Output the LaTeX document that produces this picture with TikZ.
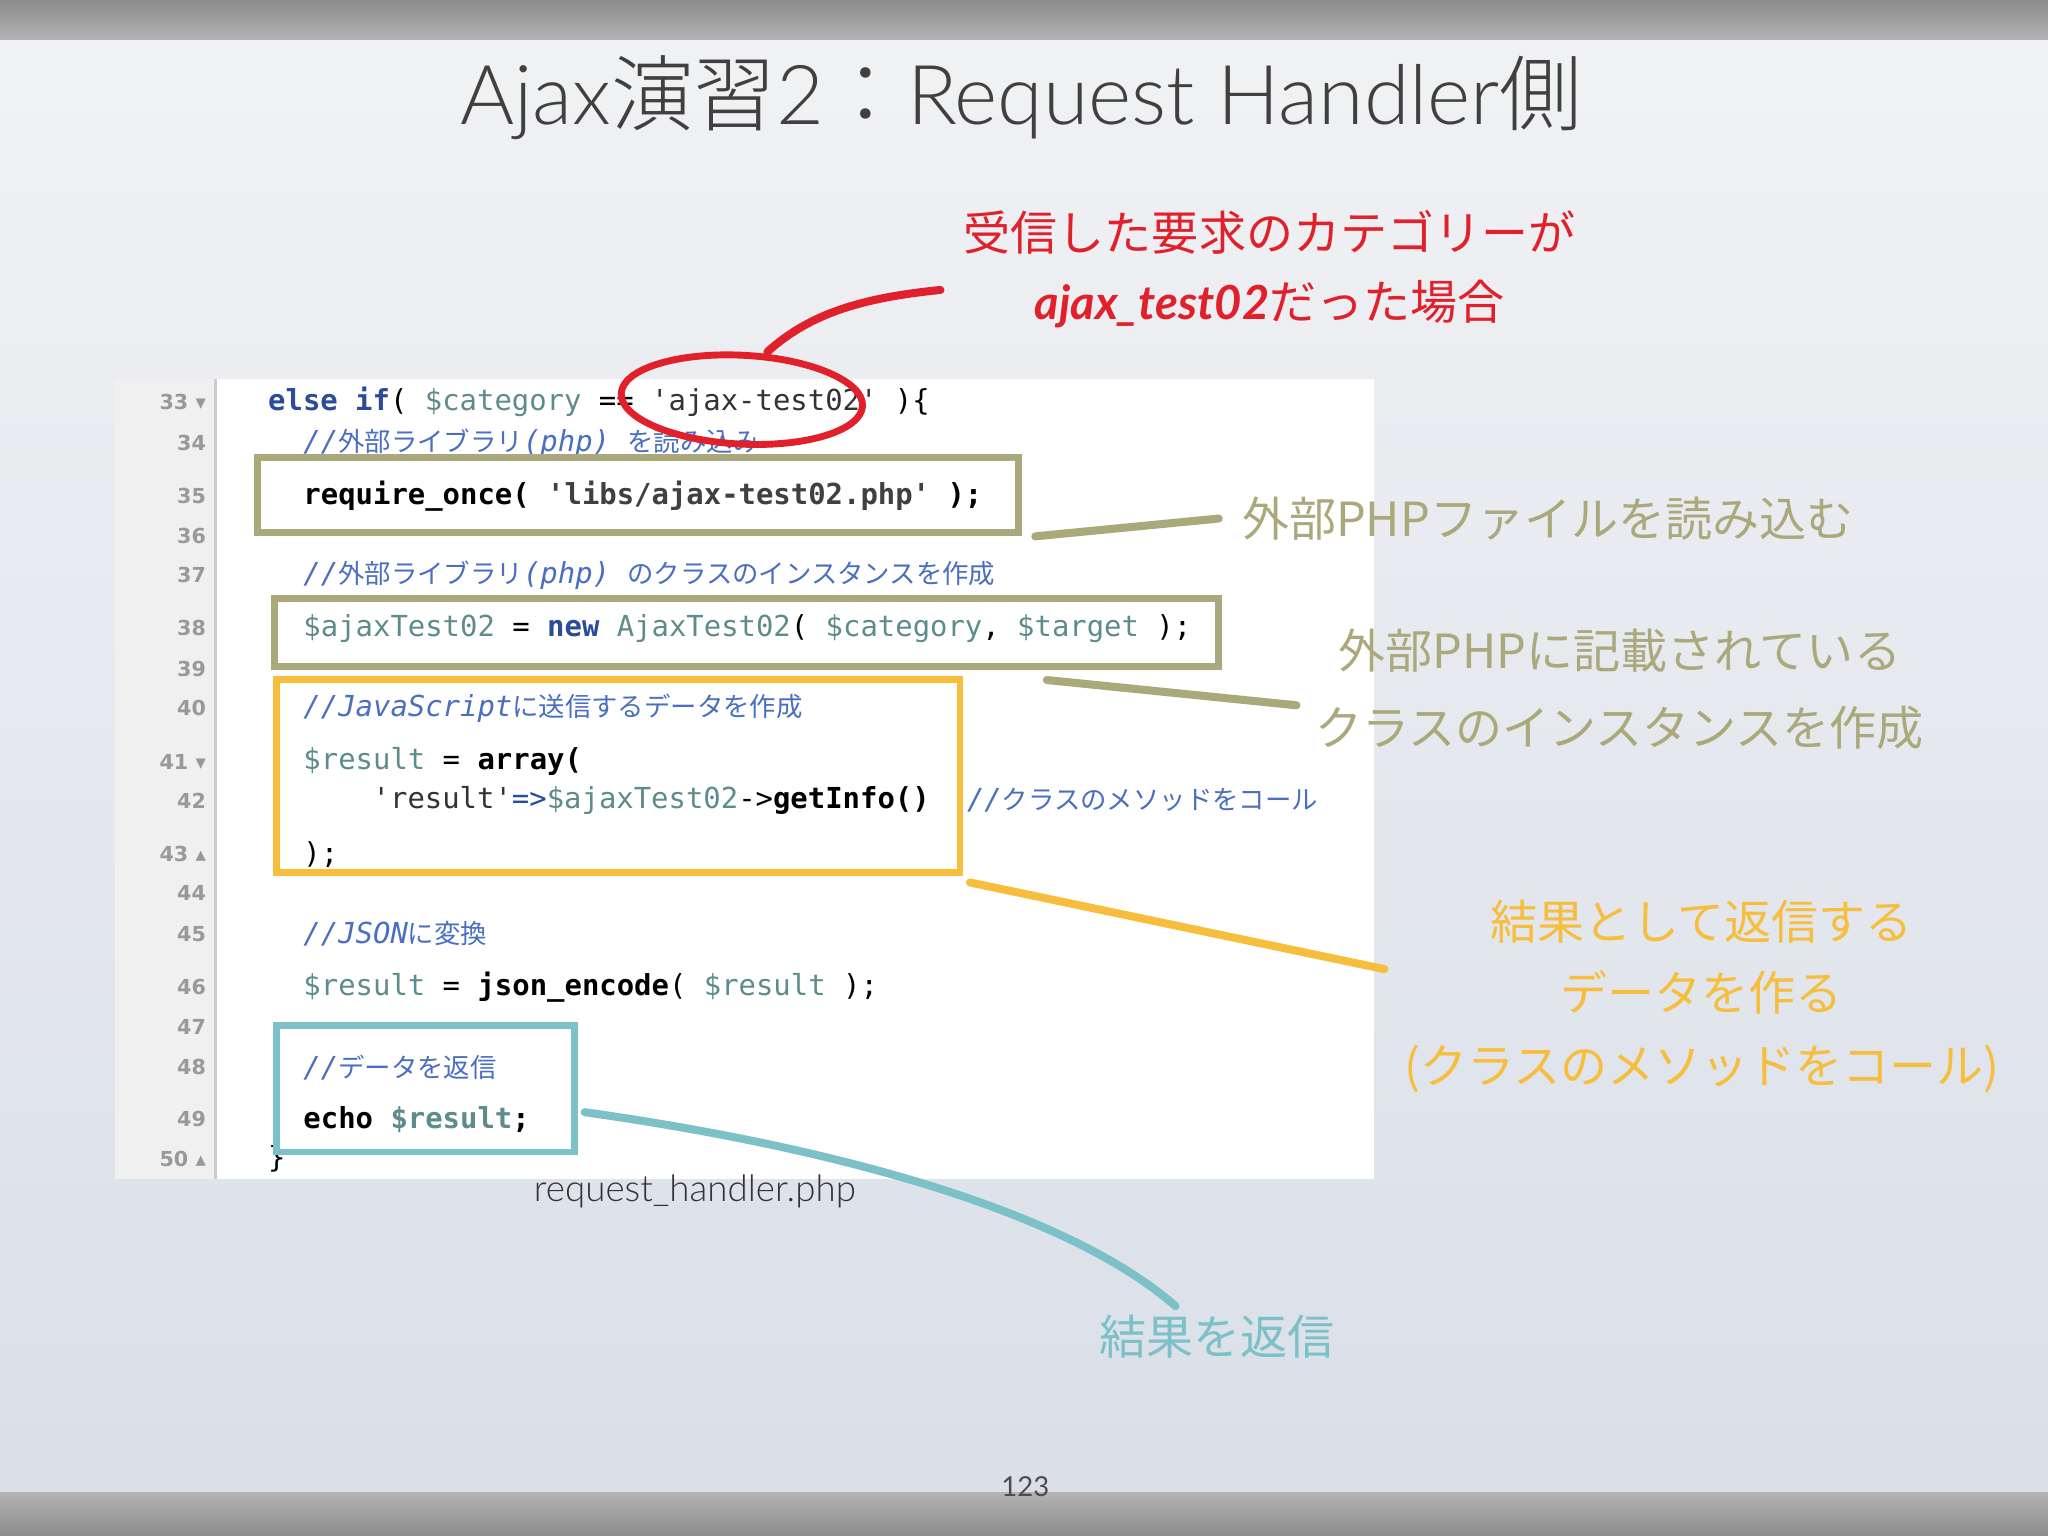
\documentclass[tikz,border=0pt]{standalone}
\usepackage{fontspec}
\setmainfont{Lato}
\setmonofont{DejaVu Sans Mono}
\newfontfamily\jp{Noto Sans CJK JP}
\newfontfamily\jpl{Noto Sans CJK JP Light}
\usetikzlibrary{shapes.geometric}
\definecolor{olv}{HTML}{ABA97C}
\definecolor{ylw}{HTML}{F6BE3C}
\definecolor{tea}{HTML}{7CC0C8}
\definecolor{rd}{HTML}{E0202A}
\definecolor{kw}{HTML}{2A4C9A}
\definecolor{vr}{HTML}{5E8C8C}
\definecolor{cm}{HTML}{4A6FC0}
\definecolor{bgt}{HTML}{F1F2F4}
\definecolor{bgb}{HTML}{D9DEE8}
\tikzset{
 cl/.style={anchor=west,inner sep=0pt,font=\ttfamily\fontsize{12.6}{14}\selectfont},
 ln/.style={anchor=east,inner sep=0pt,text=gray!80,font=\ttfamily\bfseries\fontsize{9}{10}\selectfont},
 hb/.style={draw,line width=3pt,inner sep=0pt},
 lab/.style={inner sep=0pt,font=\jp\fontsize{20.5}{24}\selectfont},
 stroke/.style={line width=3.5pt,line cap=round}
}
\newcommand{\cmt}[1]{\textcolor{cm}{\itshape #1}}
\newcommand{\jpc}[1]{{\jp\fontsize{11.5}{13}\selectfont #1}}
\begin{document}
\begin{tikzpicture}[x=0.02cm,y=-0.02cm]
\useasboundingbox (0,0) rectangle (1568,1176);
\shade[top color=bgt,bottom color=bgb] (0,0) rectangle (1568,1176);
\shade[top color=gray!90,bottom color=gray!60] (0,0) rectangle (1568,30);
\shade[top color=gray!60,bottom color=gray!90] (0,1143) rectangle (1568,1176);
\node[inner sep=0pt,text=black!75,font=\fontsize{36}{40}\selectfont] (title) at (782,75) {{\fontspec{Lato Light}Ajax}{\jpl 演習}{\fontspec{Lato Light}2}{\jpl ：}{\fontspec{Lato Light}Request Handler}{\jpl 側}};
% code panel
\fill[white] (88,290) rectangle (1052,903);
\fill[gray!12] (88,290) rectangle (165,903);
\draw[gray!40,line width=1pt] (165,290) -- (165,903);
\foreach \n/\y in {33 ▾/308,34/339,35/380,36/410,37/440,38/481,39/512,40/542,41 ▾/583,42/613,43 ▴/654,44/684,45/715,46/756,47/786,48/817,49/857,50 ▴/887}
  \node[ln] at (158,\y) {{\fontspec{DejaVu Sans}\fontsize{9}{10}\selectfont\n}};
\node[cl] (c33) at (205,308) {\textcolor{kw}{\bfseries else if}( \textcolor{vr}{\$category} == \textcolor{black!80}{'ajax-test02'} )\{};
\node[cl] (c34) at (232,339) {\cmt{//\jpc{外部ライブラリ}(php) \jpc{を読み込み}}};
\node[cl] (c35) at (232,380) {\bfseries require\_once( \textcolor{black!75}{'libs/ajax-test02.php'} );};
\node[cl] (c37) at (232,440) {\cmt{//\jpc{外部ライブラリ}(php) \jpc{のクラスのインスタンスを作成}}};
\node[cl] (c38) at (232,481) {\textcolor{vr}{\$ajaxTest02} = \textcolor{kw}{\bfseries new} \textcolor{vr}{AjaxTest02}( \textcolor{vr}{\$category}, \textcolor{vr}{\$target} );};
\node[cl] (c40) at (232,542) {\cmt{//JavaScript\jpc{に送信するデータを作成}}};
\node[cl] (c41) at (232,583) {\textcolor{vr}{\$result} = \bfseries array(};
\node[cl] (c42) at (285,613) {\textcolor{black!80}{'result'}\textcolor{kw}{=>}\textcolor{vr}{\$ajaxTest02}->\bfseries getInfo()};
\node[cl] (c42b) at (740,613) {\cmt{//\jpc{クラスのメソッドをコール}}};
\node[cl] (c43) at (232,654) {);};
\node[cl] (c45) at (232,715) {\cmt{//JSON\jpc{に変換}}};
\node[cl] (c46) at (232,756) {\textcolor{vr}{\$result} = \textbf{json\_encode}( \textcolor{vr}{\$result} );};
\node[cl] (c48) at (232,817) {\cmt{//\jpc{データを返信}}};
\node[cl] (c49) at (232,857) {\bfseries echo \textcolor{vr}{\$result};};
\node[cl] (c50) at (205,887) {\}};
% highlight boxes
\node[hb,olv,minimum width=583*0.02cm,minimum height=58*0.02cm] (b1) at (488.5,379) {};
\node[hb,olv,minimum width=723*0.02cm,minimum height=52*0.02cm] (b2) at (571.5,484) {};
\node[hb,ylw,minimum width=523*0.02cm,minimum height=148*0.02cm] (b3) at (473.5,594) {};
\node[hb,tea,minimum width=228*0.02cm,minimum height=97*0.02cm] (b4) at (326,833.5) {};
\node[draw=rd,line width=3pt,ellipse,minimum width=185*0.02cm,minimum height=68*0.02cm,rotate=-3] (ell) at (568,306) {};
% labels
\node[lab,text=rd] (r1) at (972,178) {受信した要求のカテゴリーが};
\node[lab,text=rd] (r2) at (972,233) {{\bfseries\itshape\fontspec{Lato}ajax\_test02}だった場合};
\node[lab,text=olv] (l1) at (1185,397) {外部PHPファイルを読み込む};
\node[lab,text=olv] (l2) at (1240,498) {外部PHPに記載されている};
\node[lab,text=olv] (l3) at (1240,557) {クラスのインスタンスを作成};
\node[lab,text=ylw] (y1) at (1303,706) {結果として返信する};
\node[lab,text=ylw] (y2) at (1303,760) {データを作る};
\node[lab,text=ylw] (y3) at (1303,818) {(クラスのメソッドをコール)};
\node[lab,text=tea] (t1) at (932,1023) {結果を返信};
\node[inner sep=0pt,text=black!80,font=\fontspec{Lato Light}\fontsize{16}{18}\selectfont] (fn) at (532,912) {request\_handler.php};
\node[inner sep=0pt,text=black!70,font=\fontsize{12}{14}\selectfont] (pg) at (785,1138) {123};
% strokes
\draw[stroke,rd] ([xshift=10pt]ell.north) .. controls (620,240) and (660,228) .. (720,222);
\draw[stroke,olv] (b1.south east) ++(10,0) -- ([xshift=-10pt]l1.west);
\draw[stroke,olv] (b2.south) ++(230,8) -- ([xshift=-8pt]l3.north west);
\draw[stroke,ylw] (b3.south east) ++(5,5) -- (1060,742);
\draw[stroke,tea] (b4.east) ++(5,18) .. controls (650,880) and (820,930) .. (900,1000);
\end{tikzpicture}
\end{document}
